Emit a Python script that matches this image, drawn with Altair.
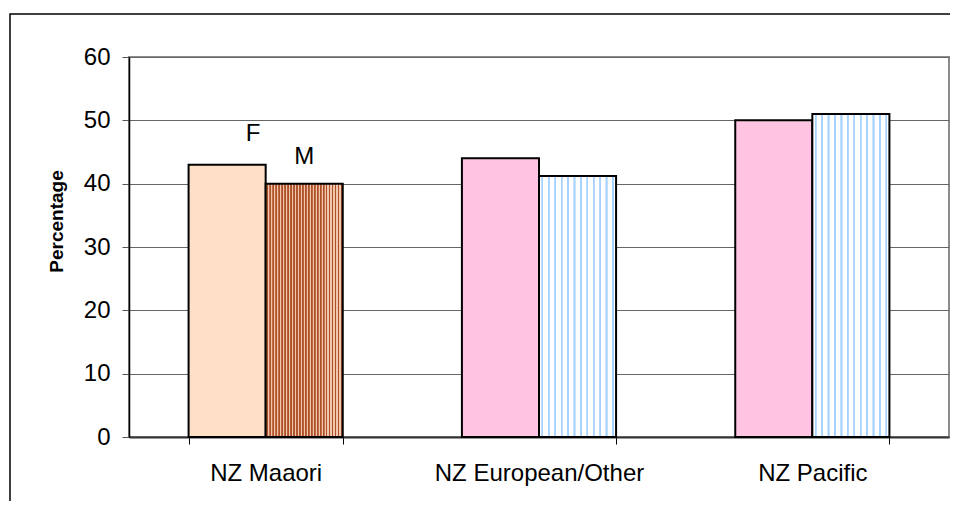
import altair as alt
import pandas as pd

groups = ["NZ Maaori", "NZ European/Other", "NZ Pacific"]
sexes = ["F", "M"]
female = [43, 44, 50]
male = [40, 41.2, 51]
styles_f = ["maoriF", "otherF", "otherF"]
styles_m = ["maoriM", "otherM", "otherM"]
y_ticks = [0, 10, 20, 30, 40, 50, 60]
bar_labels = ["F", "M"]

rows = []
for g, vf, vm, sf, sm in zip(groups, female, male, styles_f, styles_m):
    rows.append({"group": g, "sex": "F", "value": vf, "style": sf})
    rows.append({"group": g, "sex": "M", "value": vm, "style": sm})
df = pd.DataFrame(rows)

FONT = "Liberation Sans"


def stripes(n, base, line, edge, a, b):
    stops = []
    for i in range(n):
        s = i / n
        w = 1 / n
        p0 = s + w * a
        p1 = s + w * b
        stops += [
            {"offset": round(s, 5), "color": base},
            {"offset": round(p0, 5), "color": base},
            {"offset": round(p0, 5), "color": edge},
            {"offset": round(p0 + (p1 - p0) * 0.25, 5), "color": line},
            {"offset": round(p0 + (p1 - p0) * 0.75, 5), "color": line},
            {"offset": round(p1, 5), "color": edge},
            {"offset": round(p1, 5), "color": base},
        ]
    stops.append({"offset": 1, "color": base})
    return {"gradient": "linear", "x1": 0, "x2": 1, "y1": 0, "y2": 0, "stops": stops}


blue_stripes = stripes(12, "#ffffff", "#a6d2ff", "#d2e9ff", 0.35, 0.7)
brown_stripes = stripes(26, "#f0c6ad", "#ad5028", "#c67652", 0.28, 0.85)

x_enc = alt.X(
    "group:N",
    sort=groups,
    scale=alt.Scale(paddingInner=0.436, paddingOuter=0.218),
    axis=alt.Axis(
        title=None,
        labelFont=FONT,
        labelFontSize=24,
        labelColor="black",
        labelPadding=17,
        labelAngle=0,
        labelLimit=500,
        tickBand="extent",
        tickSize=7,
        tickColor="black",
        domainColor="#333333",
        domainWidth=2,
        grid=False,
    ),
)
xo_enc = alt.XOffset("sex:N", sort=sexes, scale=alt.Scale(paddingInner=0, paddingOuter=0))
y_enc = alt.Y(
    "value:Q",
    scale=alt.Scale(domain=[0, 60], nice=False),
    axis=alt.Axis(
        values=y_ticks,
        title="Percentage",
        titleFont=FONT,
        titleFontSize=19,
        titleFontWeight="bold",
        titleColor="black",
        titleAngle=270,
        titleAlign="center",
        titleBaseline="middle",
        titleX=-73,
        titleY=164,
        labelFont=FONT,
        labelFontSize=24,
        labelColor="black",
        labelPadding=12,
        tickSize=7,
        tickColor="#555555",
        domainColor="black",
        domainWidth=1.5,
        gridColor="#666666",
        gridWidth=1,
    ),
)

base = alt.Chart(df).encode(x=x_enc, xOffset=xo_enc, y=y_enc)

fills = {
    "maoriF": "#fde0c6",
    "maoriM": brown_stripes,
    "otherF": "#ffc4e2",
    "otherM": blue_stripes,
}

bar_layers = [
    base.transform_filter(alt.datum.style == k).mark_bar(
        fill=v, stroke="black", strokeWidth=2
    )
    for k, v in fills.items()
]

lab_df = df[df["group"] == groups[0]].copy()
lab_df["label"] = bar_labels
text_f = (
    alt.Chart(lab_df[lab_df["sex"] == "F"])
    .mark_text(font=FONT, fontSize=24, color="black", baseline="bottom", dy=-19, dx=26)
    .encode(x=alt.X("group:N", sort=groups), xOffset=alt.XOffset("sex:N", sort=sexes),
            y="value:Q", text="label:N")
)
text_m = (
    alt.Chart(lab_df[lab_df["sex"] == "M"])
    .mark_text(font=FONT, fontSize=24, color="black", baseline="bottom", dy=-15)
    .encode(x=alt.X("group:N", sort=groups), xOffset=alt.XOffset("sex:N", sort=sexes),
            y="value:Q", text="label:N")
)

frame = (
    alt.Chart(pd.DataFrame({"a": [0]}))
    .mark_rect(fillOpacity=0, stroke="black", strokeWidth=1.5)
    .encode(x=alt.value(-119), x2=alt.value(870), y=alt.value(-43), y2=alt.value(520))
)

chart = (
    alt.layer(frame, *bar_layers, text_f, text_m)
    .properties(
        width=820,
        height=380,
        autosize=alt.AutoSizeParams(type="none"),
        padding={"left": 121, "top": 49, "right": 1, "bottom": 64},
        background="white",
    )
    .configure_view(stroke="#8c8c8c", strokeWidth=2)
)

chart.save("out.html", embed_options={"renderer": "svg", "actions": False})
